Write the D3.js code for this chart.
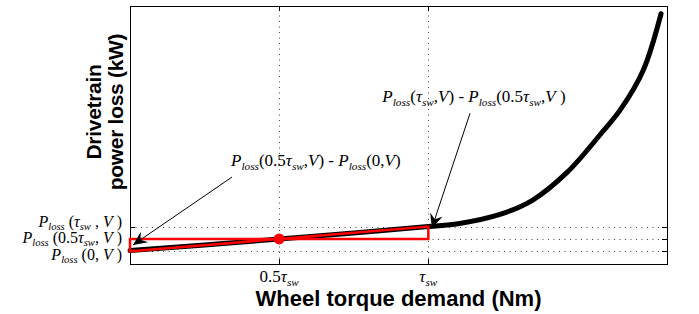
<!DOCTYPE html>
<html>
<head>
<style>
  body { margin: 0; background: #fff; }
  text { white-space: pre; }
</style>
</head>
<body>
<div id="chart"></div>
<script src="https://d3js.org/d3.v7.min.js"></script>
<script>
// wheel torque demand (arbitrary units) and drivetrain loss (arbitrary units)
const torque = [0, 25, 50, 75, 100, 110, 124, 135, 146.5, 157.5, 164.5, 172, 178]
const loss   = [5.2, 7.35, 9.7, 12.0, 14.5, 15.6, 19.2, 24.8, 35.5, 50.0, 60.0, 75.0, 97]

const tauSw = 100
const xTicks = [50, 100]                 // 0.5*tau_sw, tau_sw
const yTicks = [14.5, 9.7, 5.2]          // P(tau_sw), P(0.5 tau_sw), P(0)
const midPoint = [50, 9.7]

// red trapezoid: level of P(0.5tau), up to P(tau), chord back to torque 0
const boxX = [0, 100, 100, 0]
const boxY = [9.7, 9.7, 14.5, 4.9]

// tick labels as [text, style] parts: i = italic, s = italic subscript, n = normal
const xTickLabels = [
  [["0.5", "n"], ["τ", "i"], ["sw", "s"]],
  [["τ", "i"], ["sw", "s"]]
]
const yTickLabels = [
  [["P", "i"], ["loss", "s"], [" (", "n"], ["τ", "i"], ["sw", "s"], [" , ", "n"], ["V", "i"], [" )", "n"]],
  [["P", "i"], ["loss", "s"], [" (0.5", "n"], ["τ", "i"], ["sw", "s"], [", ", "n"], ["V", "i"], [" )", "n"]],
  [["P", "i"], ["loss", "s"], [" (0, ", "n"], ["V", "i"], [" )", "n"]]
]

// annotations: text anchor and arrow tail/tip in data units
const notes = [
  {
    parts: [["P", "i"], ["loss", "s"], ["(0.5", "n"], ["τ", "i"], ["sw", "s"], [",", "n"], ["V", "i"], [") - ", "n"],
            ["P", "i"], ["loss", "s"], ["(0,", "n"], ["V", "i"], [")", "n"]],
    at: [62.3, 38.0], tail: [34.2, 33.7], tip: [1.0, 7.4]
  },
  {
    parts: [["P", "i"], ["loss", "s"], ["(", "n"], ["τ", "i"], ["sw", "s"], [",", "n"], ["V", "i"], [") - ", "n"],
            ["P", "i"], ["loss", "s"], ["(0.5", "n"], ["τ", "i"], ["sw", "s"], [",", "n"], ["V", "i"], [" )", "n"]],
    at: [115.3, 62.8], tail: [114, 58.5], tip: [101.2, 14.0]
  }
]

const width = 699, height = 314
const margin = {left: 130, right: 32, top: 6, bottom: 50}
const serif = "'Liberation Serif', 'Times New Roman', serif"
const sans = "'Liberation Sans', Arial, Helvetica, sans-serif"

const x = d3.scaleLinear().domain([0, 180]).range([margin.left, width - margin.right])
const y = d3.scaleLinear().domain([0, 100]).range([height - margin.bottom, margin.top])

const svg = d3.select("#chart").append("svg")
  .attr("width", width).attr("height", height)

function richText(sel, parts, size) {
  let shift = 0
  parts.forEach(p => {
    const sub = p[1] === "s"
    const target = sub ? size * 0.22 : 0
    const t = sel.append("tspan").text(p[0])
      .attr("font-size", sub ? size * 0.66 : size)
      .attr("font-style", p[1] === "n" ? "normal" : "italic")
    if (target !== shift) { t.attr("dy", target - shift); shift = target }
  })
}

const x0 = x.range()[0], x1 = x.range()[1]
const y0 = y.range()[0], y1 = y.range()[1]

// dotted grid
const grid = svg.append("g").attr("stroke", "#444").attr("stroke-width", 1)
  .attr("stroke-dasharray", "1,4.5")
grid.selectAll(".vg").data(xTicks).enter().append("line")
  .attr("x1", d => Math.round(x(d)) + 0.5).attr("x2", d => Math.round(x(d)) + 0.5)
  .attr("y1", y0).attr("y2", y1)
grid.selectAll(".hg").data(yTicks).enter().append("line")
  .attr("y1", d => Math.round(y(d)) + 0.5).attr("y2", d => Math.round(y(d)) + 0.5)
  .attr("x1", x0).attr("x2", x1)

// axes box with inner ticks
const axes = svg.append("g").attr("stroke", "#000").attr("fill", "none")
axes.append("rect")
  .attr("x", x0 + 0.5).attr("y", y1 + 0.5)
  .attr("width", x1 - x0).attr("height", y0 - y1)
xTicks.forEach(d => {
  const px = Math.round(x(d)) + 0.5
  axes.append("line").attr("x1", px).attr("x2", px).attr("y1", y0).attr("y2", y0 - 5)
  axes.append("line").attr("x1", px).attr("x2", px).attr("y1", y1).attr("y2", y1 + 5)
})
yTicks.forEach(d => {
  const py = Math.round(y(d)) + 0.5
  axes.append("line").attr("x1", x0).attr("x2", x0 + 5).attr("y1", py).attr("y2", py)
  axes.append("line").attr("x1", x1).attr("x2", x1 - 5).attr("y1", py).attr("y2", py)
})

// loss curve
const line = d3.line()
  .x((d, i) => x(torque[i]))
  .y(d => y(d))
  .curve(d3.curveCatmullRom)
svg.append("path")
  .datum(loss)
  .attr("d", line)
  .attr("fill", "none")
  .attr("stroke", "#000")
  .attr("stroke-width", 5)
  .attr("stroke-linecap", "round")

// red trapezoid and midpoint
svg.append("path")
  .datum(boxX.map((d, i) => [x(d), y(boxY[i])]))
  .attr("d", d => d3.line()(d) + "Z")
  .attr("fill", "none")
  .attr("stroke", "#ff0000")
  .attr("stroke-width", 2.5)
svg.append("circle")
  .attr("cx", x(midPoint[0])).attr("cy", y(midPoint[1]))
  .attr("r", 5.5).attr("fill", "#ff0000")

// arrowheads
svg.append("defs").append("marker")
  .attr("id", "head")
  .attr("markerUnits", "userSpaceOnUse")
  .attr("markerWidth", 18).attr("markerHeight", 16)
  .attr("refX", 0).attr("refY", 0)
  .attr("viewBox", "-16 -8 18 16")
  .attr("orient", "auto")
  .append("path")
  .attr("d", "M0,0 L-14,-6.5 L-9,0 L-14,6.5 Z")
  .attr("fill", "#000")

notes.forEach(n => {
  svg.append("line")
    .attr("x1", x(n.tail[0])).attr("y1", y(n.tail[1]))
    .attr("x2", x(n.tip[0])).attr("y2", y(n.tip[1]))
    .attr("stroke", "#000").attr("stroke-width", 1)
    .attr("marker-end", "url(#head)")
  const t = svg.append("text")
    .attr("x", x(n.at[0])).attr("y", y(n.at[1]))
    .attr("text-anchor", "middle")
    .attr("font-family", serif)
  richText(t, n.parts, 17)
})

// x tick labels
xTicks.forEach((d, i) => {
  const t = svg.append("text")
    .attr("x", x(d)).attr("y", y0 + 18)
    .attr("text-anchor", "middle")
    .attr("font-family", serif)
  richText(t, xTickLabels[i], 17)
})

// y tick labels (spread apart so they do not overlap)
const spread = [0, 4, 9]
yTicks.forEach((d, i) => {
  const t = svg.append("text")
    .attr("x", 122).attr("y", y(d) + spread[i])
    .attr("text-anchor", "end")
    .attr("font-family", serif)
  richText(t, yTickLabels[i], 16)
})

// axis titles
svg.append("text")
  .attr("x", (x0 + x1) / 2).attr("y", 306)
  .attr("text-anchor", "middle")
  .attr("font-family", sans).attr("font-weight", "bold")
  .attr("font-size", 22)
  .text("Wheel torque demand (Nm)")

const yTitle = svg.append("text")
  .attr("transform", "translate(0,112) rotate(-90)")
  .attr("text-anchor", "middle")
  .attr("font-family", sans).attr("font-weight", "bold")
  .attr("font-size", 21).attr("letter-spacing", -0.3)
yTitle.append("tspan").attr("x", 0).attr("y", 101).text("Drivetrain")
yTitle.append("tspan").attr("x", 0).attr("y", 123).text("power loss (kW)")
</script>
</body>
</html>
